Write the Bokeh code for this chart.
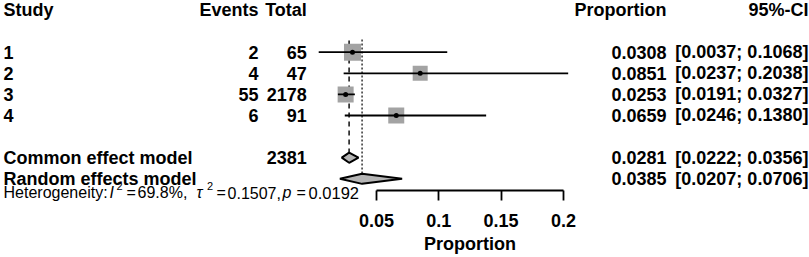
from bokeh.plotting import figure
from bokeh.models import Range1d, LinearAxis, FixedTicker
from bokeh.core.properties import value
from bokeh.embed import file_html
from bokeh.resources import INLINE

# ---------------- data ----------------
studies = ["1", "2", "3", "4"]
events = [2, 4, 55, 6]
totals = [65, 47, 2178, 91]
proportions = [0.0308, 0.0851, 0.0253, 0.0659]
ci_lower = [0.0037, 0.0237, 0.0191, 0.0246]
ci_upper = [0.1068, 0.2038, 0.0327, 0.1380]

model_names = ["Common effect model", "Random effects model"]
model_est = [0.0281, 0.0385]
model_lower = [0.0222, 0.0207]
model_upper = [0.0356, 0.0706]
total_n = 2381

het_i2 = "69.8%"
het_tau2 = "0.1507"
het_p = "0.0192"

headers = ["Study", "Events", "Total", "Proportion", "95%-CI"]
tick_values = [0.05, 0.1, 0.15, 0.2]
tick_labels = ["0.05", "0.1", "0.15", "0.2"]
axis_title = "Proportion"

# ---------------- layout / style ----------------
W, H = 809, 257
X0, X1 = -0.25154, 0.39737
Y_BOTTOM, Y_TOP = 11.730, -0.4502
AXIS_ROW = 8.555
study_rows = [2, 3, 4, 5]
model_rows = [7, 8]
het_row = 8.673
col_study = -0.2491
col_events = -0.0446
col_total = -0.0058
col_prop = 0.2827
col_ci = 0.3965
DH = 0.24
sq_sizes = [17, 15, 16, 16]
FONT_NAME = "Liberation Sans"
FONT = value(FONT_NAME)
FS = "18px"
HFS = "16px"

p = figure(width=W, height=H, x_range=Range1d(X0, X1), y_range=Range1d(Y_BOTTOM, Y_TOP),
           x_axis_type=None, y_axis_type=None, output_backend="svg", toolbar_location=None,
           min_border_left=0, min_border_right=0, min_border_top=0, min_border_bottom=0,
           outline_line_color=None)

# reference lines
p.segment(x0=[model_est[0]], y0=[1.45], x1=[model_est[0]], y1=[model_rows[0] - DH],
          line_color="#333333", line_width=1.8, line_dash="5 4")
p.segment(x0=[model_est[1]], y0=[1.4], x1=[model_est[1]], y1=[model_rows[1] - DH],
          line_color="#555555", line_width=1.8, line_dash="2 2")

# study squares, CI lines, dots
p.scatter(x=proportions, y=study_rows, marker="square", size=sq_sizes,
          fill_color="#a3a3a3", line_color=None)
p.segment(x0=ci_lower, y0=study_rows, x1=ci_upper, y1=study_rows,
          line_color="black", line_width=1.8)
p.scatter(x=proportions, y=study_rows, marker="circle", size=5,
          fill_color="black", line_color=None)

# diamonds
xs = [[lo, e, hi, e] for lo, e, hi in zip(model_lower, model_est, model_upper)]
ys = [[r, r - DH, r, r + DH] for r in model_rows]
p.patches(xs=xs, ys=ys, fill_color="#b5b5b5", line_color="black", line_width=2)

def txt(x, y, t, align, style="bold", size=FS, dx=0, dy=0):
    p.text(x=x, y=y, text=t, text_font=FONT, text_font_style=style, text_font_size=size,
           text_align=align, text_baseline="middle", text_color="black",
           x_offset=dx, y_offset=dy)

# headers
txt([col_study], [0], [headers[0]], "left")
txt([col_events], [0], [headers[1]], "right")
txt([col_total], [0], [headers[2]], "right")
txt([col_prop], [0], [headers[3]], "right")
txt([col_ci], [0], [headers[4]], "right")

# study rows
txt([col_study] * 4, study_rows, studies, "left")
txt([col_events] * 4, study_rows, [str(v) for v in events], "right")
txt([col_total] * 4, study_rows, [str(v) for v in totals], "right")
txt([col_prop] * 4, study_rows, [f"{v:.4f}" for v in proportions], "right")
txt([col_ci] * 4, study_rows, [f"[{a:.4f}; {b:.4f}]" for a, b in zip(ci_lower, ci_upper)], "right")

# model rows
txt([col_study] * 2, model_rows, model_names, "left")
txt([col_total], [model_rows[0]], [str(total_n)], "right")
txt([col_prop] * 2, model_rows, [f"{v:.4f}" for v in model_est], "right")
txt([col_ci] * 2, model_rows, [f"[{a:.4f}; {b:.4f}]" for a, b in zip(model_lower, model_upper)], "right")

# heterogeneity text pieces (offset in px from the study column)
pieces = [
    ("Heterogeneity:", 0, 0, "normal", HFS),
    ("I", 106, 0, "italic", HFS),
    ("2", 113, -6.5, "normal", "11px"),
    ("=", 123, 0, "normal", HFS),
    (f"{het_i2},", 134, 0, "normal", HFS),
    ("\u03c4", 193, 0, "italic", HFS),
    ("2", 203.5, -6.5, "normal", "11px"),
    ("=", 213, 0, "normal", HFS),
    (f"{het_tau2},", 224, 0, "normal", HFS),
    ("p", 279, 0, "italic", HFS),
    ("=", 293, 0, "normal", HFS),
    (het_p, 305, 0, "normal", "16.5px"),
]
for t, dx, dy, st, sz in pieces:
    txt([col_study], [het_row], [t], "left", style=st, size=sz, dx=dx, dy=dy)

# axis (fixed inside the frame just under the random-effects row)
ax = LinearAxis(bounds=(tick_values[0], tick_values[-1]), ticker=FixedTicker(ticks=tick_values),
                major_label_overrides={v: l for v, l in zip(tick_values, tick_labels)},
                axis_label=axis_title, fixed_location=AXIS_ROW)
ax.axis_line_width = 1.8
ax.axis_line_color = "black"
ax.major_tick_line_width = 1.8
ax.major_tick_line_color = "black"
ax.major_tick_out = 10
ax.major_tick_in = 0
ax.minor_tick_out = 0
ax.minor_tick_in = 0
ax.major_label_standoff = 13
ax.major_label_text_font = FONT_NAME
ax.major_label_text_font_style = "bold"
ax.major_label_text_font_size = FS
ax.major_label_text_color = "black"
ax.axis_label_standoff = 4
ax.axis_label_text_font = FONT_NAME
ax.axis_label_text_font_style = "bold"
ax.axis_label_text_font_size = FS
ax.axis_label_text_color = "black"
p.add_layout(ax, "below")

open("out.html", "w").write(file_html(p, INLINE))
